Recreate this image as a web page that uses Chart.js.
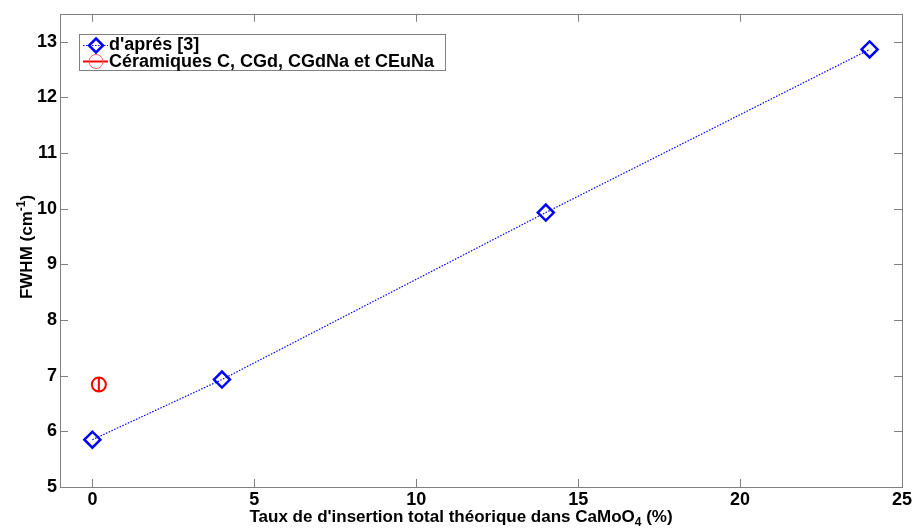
<!DOCTYPE html>
<html>
<head>
<meta charset="utf-8">
<script src="https://cdn.jsdelivr.net/npm/chart.js@4/dist/chart.umd.min.js"></script>
<style>
  html, body { margin: 0; padding: 0; background: #fff; }
  #wrap { width: 914px; height: 528px; }
</style>
</head>
<body>
<div id="wrap"><canvas id="chart"></canvas></div>
<script>
// data
const refX = [0, 4, 14, 24];
const refY = [5.85, 6.93, 9.93, 12.86];
const ceramX = [0.2];
const ceramY = [6.84];
const ceramErr = [0.12];
const xTicks = [0, 5, 10, 15, 20, 25];
const yTicks = [5, 6, 7, 8, 9, 10, 11, 12, 13];

const FONT = "'Liberation Sans', Arial, sans-serif";
const BLUE = "#0000ff";
const RED = "#ff0000";
const FRAME = "#808080";

// frame + inward ticks on all four sides
const framePlugin = {
  id: "frame",
  afterDatasetsDraw(chart) {
    const { ctx, chartArea: a, scales } = chart;
    ctx.save();
    ctx.strokeStyle = FRAME;
    ctx.lineWidth = 1;
    ctx.beginPath();
    const L = 8;
    xTicks.forEach(v => {
      const px = Math.round(scales.x.getPixelForValue(v)) + 0.5;
      ctx.moveTo(px, a.bottom); ctx.lineTo(px, a.bottom - L);
      ctx.moveTo(px, a.top); ctx.lineTo(px, a.top + L);
    });
    yTicks.forEach(v => {
      const py = Math.round(scales.y.getPixelForValue(v)) + 0.5;
      ctx.moveTo(a.left, py); ctx.lineTo(a.left + L, py);
      ctx.moveTo(a.right, py); ctx.lineTo(a.right - L, py);
    });
    ctx.stroke();
    ctx.strokeRect(Math.round(a.left) + 0.5, Math.round(a.top) + 0.5,
      Math.round(a.right - a.left), Math.round(a.bottom - a.top));
    ctx.restore();
  }
};

// text with a small raised/lowered part: parts = [[text, isScript], ...]
function drawRich(ctx, parts, x, y, size, shift) {
  let cx = x;
  parts.forEach(([t, small]) => {
    ctx.font = "bold " + (small ? Math.round(size * 0.7) : size) + "px " + FONT;
    ctx.fillText(t, cx, small ? y + shift : y);
    cx += ctx.measureText(t).width;
  });
}
function richWidth(ctx, parts, size) {
  let w = 0;
  parts.forEach(([t, small]) => {
    ctx.font = "bold " + (small ? Math.round(size * 0.7) : size) + "px " + FONT;
    w += ctx.measureText(t).width;
  });
  return w;
}

// axis titles with real sub/superscripts
const titlePlugin = {
  id: "titles",
  afterDraw(chart) {
    const { ctx } = chart;
    ctx.save();
    ctx.fillStyle = "#000";
    ctx.textBaseline = "alphabetic";
    ctx.textAlign = "left";

    const xParts = [["Taux de d'insertion total théorique dans CaMoO", false], ["4", true], [" (%)", false]];
    const xs = 17;
    const xw = richWidth(ctx, xParts, xs);
    drawRich(ctx, xParts, 461 - xw / 2, 522, xs, 4);

    const yParts = [["FWHM (cm", false], ["-1", true], [")", false]];
    const ys = 17;
    const yw = richWidth(ctx, yParts, ys);
    ctx.translate(32, 247);
    ctx.rotate(-Math.PI / 2);
    drawRich(ctx, yParts, -yw / 2, 0, ys, -7);
    ctx.restore();
  }
};

// legend box inside the plot, top-left
const legendPlugin = {
  id: "boxLegend",
  afterDraw(chart) {
    const { ctx } = chart;
    const x0 = 79, y0 = 34, w = 366, h = 36;
    ctx.save();
    ctx.fillStyle = "#fff";
    ctx.fillRect(x0, y0, w, h);
    ctx.strokeStyle = FRAME;
    ctx.lineWidth = 1;
    ctx.strokeRect(x0 + 0.5, y0 + 0.5, w, h);

    // row 1: blue dotted + diamond
    let cy = 45.5;
    ctx.strokeStyle = BLUE;
    ctx.lineWidth = 1.2;
    ctx.setLineDash([1.5, 1.5]);
    ctx.beginPath(); ctx.moveTo(83, cy); ctx.lineTo(108, cy); ctx.stroke();
    ctx.setLineDash([]);
    ctx.lineWidth = 2.5;
    ctx.beginPath();
    ctx.moveTo(96, cy - 7); ctx.lineTo(103, cy); ctx.lineTo(96, cy + 7); ctx.lineTo(89, cy);
    ctx.closePath();
    ctx.stroke();

    // row 2: red line + circle
    cy = 61.5;
    ctx.strokeStyle = RED;
    ctx.lineWidth = 2;
    ctx.beginPath(); ctx.moveTo(83, cy); ctx.lineTo(108, cy); ctx.stroke();
    ctx.lineWidth = 1;
    ctx.strokeStyle = "#ff6060";
    ctx.beginPath(); ctx.arc(96, cy, 7, 0, Math.PI * 2); ctx.stroke();

    ctx.fillStyle = "#000";
    ctx.font = "bold 18px " + FONT;
    ctx.textBaseline = "middle";
    ctx.fillText(chart.data.datasets[0].label, 109, 45);
    ctx.fillText(chart.data.datasets[1].label, 109, 62);
    ctx.restore();
  }
};

const errData = [];
ceramX.forEach((x, i) => {
  errData.push({ x: x, y: ceramY[i] - ceramErr[i] });
  errData.push({ x: x, y: ceramY[i] + ceramErr[i] });
});

const tickFont = { family: FONT, size: 18, weight: "bold" };

new Chart(document.getElementById("chart"), {
  type: "scatter",
  data: {
    datasets: [
      {
        label: "d'aprés [3]",
        data: refX.map((x, i) => ({ x: x, y: refY[i] })),
        showLine: true,
        borderColor: BLUE,
        borderWidth: 1.2,
        borderDash: [1.5, 1.5],
        pointStyle: "rectRot",
        pointRadius: 8,
        pointBorderWidth: 2.5,
        pointBorderColor: BLUE,
        pointBackgroundColor: "rgba(255,255,255,0)"
      },
      {
        label: "Céramiques C, CGd, CGdNa et CEuNa",
        data: ceramX.map((x, i) => ({ x: x, y: ceramY[i] })),
        pointStyle: "circle",
        pointRadius: 7,
        pointBorderWidth: 2,
        pointBorderColor: RED,
        pointBackgroundColor: "rgba(255,255,255,0)"
      },
      {
        label: "err",
        data: errData,
        showLine: true,
        borderColor: RED,
        borderWidth: 2,
        pointRadius: 0
      }
    ]
  },
  options: {
    responsive: true,
    maintainAspectRatio: false,
    animation: false,
    layout: { padding: { top: 13, right: 9, left: 0, bottom: 0 } },
    plugins: { legend: { display: false }, tooltip: { enabled: false } },
    scales: {
      x: {
        type: "linear",
        min: -1, max: 25,
        afterBuildTicks(s) { s.ticks = xTicks.map(v => ({ value: v })); },
        afterFit(s) { s.height = 41; },
        grid: { display: false, drawTicks: false },
        border: { display: false },
        ticks: { color: "#000", font: tickFont, padding: 2 }
      },
      y: {
        type: "linear",
        min: 5, max: 13.5,
        afterBuildTicks(s) { s.ticks = yTicks.map(v => ({ value: v })); },
        afterFit(s) { s.width = 60; },
        grid: { display: false, drawTicks: false },
        border: { display: false },
        ticks: { color: "#000", font: tickFont, padding: 3 }
      }
    }
  },
  plugins: [framePlugin, legendPlugin, titlePlugin]
});
</script>
</body>
</html>
